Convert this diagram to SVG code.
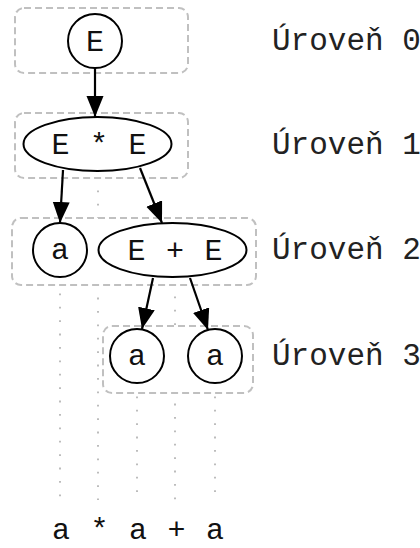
<svg xmlns="http://www.w3.org/2000/svg" width="420" height="548" viewBox="0 0 420 548">
<style>
.cl{fill:#fff;stroke:#c0c0c0;stroke-width:2;stroke-dasharray:7 4}
.nd{fill:#fff;stroke:#000;stroke-width:2}
.t{font-family:"Liberation Mono","Courier New",monospace;font-size:30px;fill:#111;text-anchor:middle;word-spacing:2.5px}
.lbl{font-family:"Liberation Mono","Courier New",monospace;font-size:31px;fill:#222}
.dot{stroke:#b5b5b5;stroke-width:1.8;stroke-dasharray:1.8 11.6;fill:none}
.ed{stroke:#000;stroke-width:2.2;fill:none;marker-end:url(#ah)}
</style>
<defs>
<marker id="ah" markerUnits="userSpaceOnUse" markerWidth="22" markerHeight="18" refX="21" refY="8.5" orient="auto">
<path d="M0,0 L21,8.5 L0,17 z" fill="#000"/>
</marker>
</defs>
<g id="columns">
<line class="dot" x1="60" y1="280" x2="60" y2="500"/>
<line class="dot" x1="98" y1="177" x2="98" y2="500"/>
<line class="dot" x1="137" y1="383" x2="137" y2="500"/>
<line class="dot" x1="175" y1="283" x2="175" y2="500"/>
<line class="dot" x1="215" y1="383" x2="215" y2="500"/>
</g>
<g id="clusters">
<rect id="level0" class="cl" x="15" y="8" width="173" height="65" rx="9"/>
<rect id="level1" class="cl" x="15" y="113" width="173" height="65" rx="9"/>
<rect id="level2" class="cl" x="12" y="218" width="244" height="67" rx="9"/>
<rect id="level3" class="cl" x="103" y="326" width="150" height="67" rx="9"/>
</g>
<g id="connectors">
<line class="ed" x1="95" y1="68" x2="95" y2="117"/>
<line class="ed" x1="63" y1="170" x2="60" y2="223"/>
<line class="ed" x1="140" y1="168" x2="162" y2="223"/>
<line class="ed" x1="153" y1="278" x2="142" y2="329"/>
<line class="ed" x1="190" y1="278" x2="208" y2="330"/>
</g>
<g id="n0"><circle class="nd" cx="95" cy="41" r="27"/><text class="t" x="95" y="51">E</text></g>
<g id="n1"><ellipse class="nd" cx="97.5" cy="144" rx="74" ry="27"/><text class="t" x="99" y="154">E * E</text></g>
<g id="n2"><circle class="nd" cx="60" cy="250" r="27"/><text class="t" x="60" y="259">a</text></g>
<g id="n3"><ellipse class="nd" cx="172.5" cy="250" rx="74" ry="27"/><text class="t" x="175" y="260">E + E</text></g>
<g id="n4"><circle class="nd" cx="137" cy="356" r="27"/><text class="t" x="137" y="365">a</text></g>
<g id="n5"><circle class="nd" cx="215" cy="356" r="27"/><text class="t" x="215" y="365">a</text></g>
<g id="labels">
<text class="lbl" x="272" y="50">Úroveň 0</text>
<text class="lbl" x="272" y="154">Úroveň 1</text>
<text class="lbl" x="272" y="259">Úroveň 2</text>
<text class="lbl" x="272" y="365">Úroveň 3</text>
</g>
<text id="input" class="t" x="138" y="539">a * a + a</text>
</svg>
